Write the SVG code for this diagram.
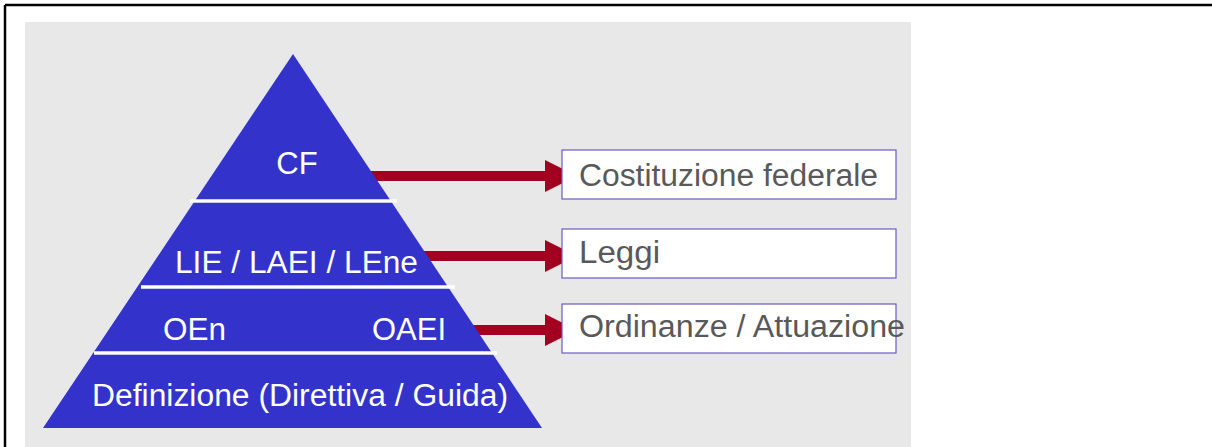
<svg xmlns="http://www.w3.org/2000/svg" width="1212" height="447" viewBox="0 0 1212 447">
<style>
.lbl{font-family:"Liberation Sans",Arial,sans-serif;font-size:31px;fill:#ffffff}
.box{fill:#ffffff;stroke:#6a5cc0;stroke-width:1.2}
.btx{font-family:"Liberation Sans",Arial,sans-serif;font-size:31px;fill:#595959}
.sep{stroke:#ffffff;stroke-width:3.5}
.arr{fill:#a30021}
</style>
<rect x="0" y="0" width="1212" height="447" fill="#ffffff"/>
<rect x="25" y="22" width="886" height="430" fill="#e8e8e8"/>
<line x1="5" y1="5" x2="1212" y2="5" stroke="#000" stroke-width="2.5"/>
<line x1="5" y1="5" x2="5" y2="447" stroke="#000" stroke-width="2.5"/>
<g id="connectors">
<polygon class="arr" points="360,171 545,171 545,160 577,176 545,192 545,181 360,181"/>
<polygon class="arr" points="415,251 545,251 545,240 577,256 545,272 545,261 415,261"/>
<polygon class="arr" points="465,325 545,325 545,314 577,330 545,346 545,335 465,335"/>
</g>
<g id="pyramid">
<polygon points="293,54 542,428 43,428" fill="#3333cc"/>
<line class="sep" x1="190" y1="201" x2="397" y2="201"/>
<line class="sep" x1="141" y1="287" x2="455" y2="287"/>
<line class="sep" x1="94" y1="353" x2="497" y2="353"/>
</g>
<g id="node-cf"><text class="lbl" x="297" y="174" text-anchor="middle">CF</text></g>
<g id="node-leggi-p"><text class="lbl" x="175" y="273" textLength="243" lengthAdjust="spacingAndGlyphs">LIE / LAEI / LEne</text></g>
<g id="node-oen"><text class="lbl" x="163" y="340" textLength="63" lengthAdjust="spacingAndGlyphs">OEn</text></g>
<g id="node-oaei"><text class="lbl" x="372" y="340" textLength="74" lengthAdjust="spacingAndGlyphs">OAEI</text></g>
<g id="node-def"><text class="lbl" x="92" y="406" textLength="416" lengthAdjust="spacingAndGlyphs">Definizione (Direttiva / Guida)</text></g>
<g id="box-cost">
<rect class="box" x="562" y="150" width="334" height="49"/>
<text class="btx" x="579" y="186" textLength="299" lengthAdjust="spacingAndGlyphs">Costituzione federale</text>
</g>
<g id="box-leggi">
<rect class="box" x="562" y="229" width="334" height="49"/>
<text class="btx" x="579" y="263" textLength="81" lengthAdjust="spacingAndGlyphs">Leggi</text>
</g>
<g id="box-ord">
<rect class="box" x="562" y="304" width="334" height="49"/>
<text class="btx" x="579" y="337" textLength="326" lengthAdjust="spacingAndGlyphs">Ordinanze / Attuazione</text>
</g>
</svg>
